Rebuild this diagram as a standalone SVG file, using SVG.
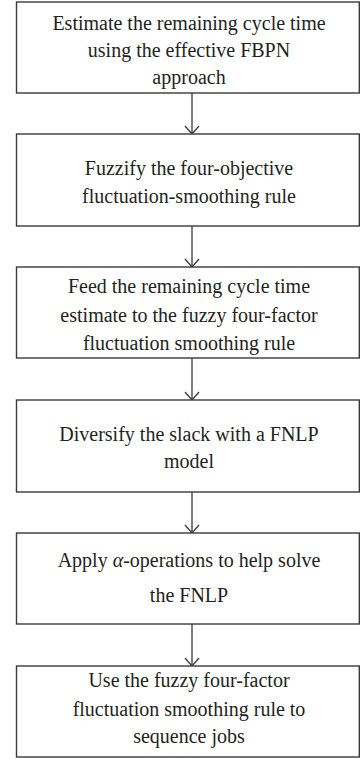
<svg xmlns="http://www.w3.org/2000/svg" width="360" height="759" viewBox="0 0 360 759">
<style>
.box{fill:#fff;stroke:#3a3a3a;stroke-width:1.4}
.t{font-family:"Liberation Serif","Times New Roman",serif;font-size:20px;fill:#231f20;text-anchor:middle}
.c{stroke:#3a3a3a;stroke-width:1.3;fill:none}
</style>
<defs>
<marker id="ah" viewBox="-10 -8 12 16" refX="0" refY="0" markerWidth="12" markerHeight="16" markerUnits="userSpaceOnUse" orient="auto">
<path d="M-8,-7 L0,0 L-8,7" fill="none" stroke="#3a3a3a" stroke-width="1.3"/>
</marker>
</defs>
<rect width="360" height="759" fill="#fff"/>
<g id="connectors">
<line class="c" x1="192" y1="93" x2="192" y2="134" marker-end="url(#ah)"/>
<line class="c" x1="192" y1="226" x2="192" y2="267" marker-end="url(#ah)"/>
<line class="c" x1="192" y1="358" x2="192" y2="400" marker-end="url(#ah)"/>
<line class="c" x1="192" y1="492" x2="192" y2="533" marker-end="url(#ah)"/>
<line class="c" x1="192" y1="624" x2="192" y2="666" marker-end="url(#ah)"/>
</g>
<g id="n1">
<rect class="box" x="16.5" y="2" width="342.8" height="91"/>
<text class="t" x="189" y="29.5">Estimate the remaining cycle time</text>
<text class="t" x="189" y="57">using the effective FBPN</text>
<text class="t" x="189" y="83.5">approach</text>
</g>
<g id="n2">
<rect class="box" x="16.5" y="134" width="342.8" height="92"/>
<text class="t" x="189" y="175">Fuzzify the four-objective</text>
<text class="t" x="189" y="203">fluctuation-smoothing rule</text>
</g>
<g id="n3">
<rect class="box" x="16.5" y="267" width="342.8" height="91"/>
<text class="t" x="189" y="293">Feed the remaining cycle time</text>
<text class="t" x="189" y="322">estimate to the fuzzy four-factor</text>
<text class="t" x="189" y="350">fluctuation smoothing rule</text>
</g>
<g id="n4">
<rect class="box" x="16.5" y="400" width="342.8" height="92"/>
<text class="t" x="189" y="441">Diversify the slack with a FNLP</text>
<text class="t" x="189" y="468">model</text>
</g>
<g id="n5">
<rect class="box" x="16.5" y="533" width="342.8" height="91"/>
<text class="t" x="189" y="567">Apply <tspan font-style="italic">α</tspan>-operations to help solve</text>
<text class="t" x="189" y="602">the FNLP</text>
</g>
<g id="n6">
<rect class="box" x="16.5" y="666" width="342.8" height="91"/>
<text class="t" x="189" y="687">Use the fuzzy four-factor</text>
<text class="t" x="189" y="716">fluctuation smoothing rule to</text>
<text class="t" x="189" y="743">sequence jobs</text>
</g>
</svg>
